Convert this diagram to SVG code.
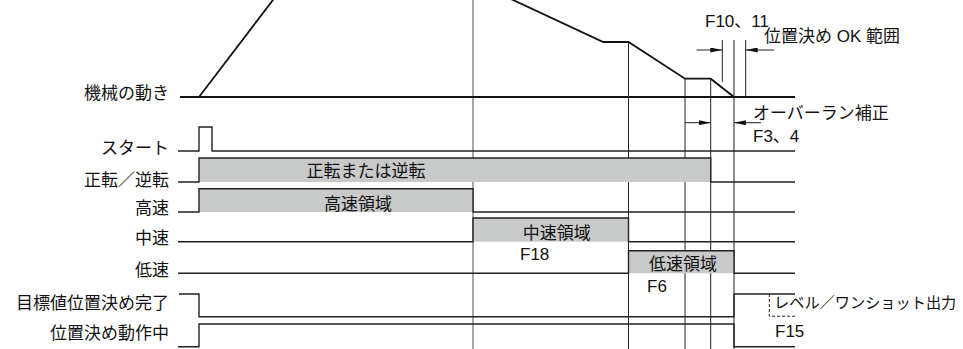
<svg xmlns="http://www.w3.org/2000/svg" width="963" height="349" viewBox="0 0 963 349">
<style>
text{font-family:"Liberation Sans","Noto Sans CJK JP",sans-serif;font-size:17px;fill:#111}
.lbl{text-anchor:end}
.mid{text-anchor:middle}
.sig{fill:none;stroke:#222;stroke-width:1.4}
.mot{fill:none;stroke:#111;stroke-width:1.8}
.ref{fill:none;stroke:#222;stroke-width:1}
.box{fill:#c8c9c9;stroke:none}
.dash{fill:none;stroke:#222;stroke-width:1;stroke-dasharray:3,2}
.dim{fill:none;stroke:#222;stroke-width:1}
</style>
<defs>
<marker id="ah" viewBox="0 0 12 5" refX="12" refY="2.5" markerWidth="12" markerHeight="5" markerUnits="userSpaceOnUse" orient="auto">
<path d="M0,0 L12,2.5 L0,5 Z" fill="#111"/>
</marker>
</defs>
<rect width="963" height="349" fill="#fff"/>
<g id="reference-lines">
<line x1="473" y1="0" x2="473" y2="349" style="stroke:#777;stroke-width:1.3"/>
<line class="ref" x1="628.5" y1="42" x2="628.5" y2="349"/>
<line class="ref" x1="685" y1="78.7" x2="685" y2="349"/>
<line class="ref" x1="710.7" y1="78.7" x2="710.7" y2="349"/>
<line class="ref" x1="734" y1="40" x2="734" y2="349"/>
<line class="ref" x1="722.3" y1="40" x2="722.3" y2="82"/>
<line class="ref" x1="745.7" y1="40" x2="745.7" y2="97"/>
</g>
<g id="boxes">
<rect class="box" x="199" y="158" width="511.7" height="24"/>
<rect class="box" x="199" y="188.7" width="274" height="23.3"/>
<rect class="box" x="473" y="218" width="155.5" height="23.7"/>
<rect class="box" x="628.5" y="250.7" width="105.5" height="22.6"/>
</g>
<g id="motion">
<path class="mot" d="M180,97 H795"/>
<path class="mot" d="M199,97 L276,-4"/>
<path class="mot" d="M504.5,-4 L603.3,42 H628.5 L685,78.7 H710.7 L734,97"/>
</g>
<g id="signals">
<path id="sig-start" class="sig" d="M178,151 H199 V127 H212 V151 H795"/>
<path id="sig-fwd" class="sig" d="M178,182 H199 V158 H710.7 V182 H795"/>
<path id="sig-high" class="sig" d="M178,212 H199 V188.7 H473 V212 H795"/>
<path id="sig-mid" class="sig" d="M178,241.7 H473 V218 H628.5 V241.7 H795"/>
<path id="sig-low" class="sig" d="M178,273.3 H628.5 V250.7 H734 V273.3 H795"/>
<path id="sig-done" class="sig" d="M179,294 H199 V316.7 H734 V294 H795"/>
<path class="dash" d="M769.3,294 V316.2 H795"/>
<path id="sig-busy" class="sig" d="M178,346.7 H199 V324 H734 V346.7 H795"/>
</g>
<g id="labels">
<text class="lbl" x="169" y="99">機械の動き</text>
<text class="lbl" x="169" y="154">スタート</text>
<text class="lbl" x="169" y="185.5">正転／逆転</text>
<text class="lbl" x="169" y="213.5">高速</text>
<text class="lbl" x="169" y="243.5">中速</text>
<text class="lbl" x="169" y="275.5">低速</text>
<text class="lbl" x="169" y="308.5">目標値位置決め完了</text>
<text class="lbl" x="169" y="338.5">位置決め動作中</text>
</g>
<g id="box-texts">
<text class="mid" x="366" y="177">正転または逆転</text>
<text class="mid" x="358" y="210">高速領域</text>
<text class="mid" x="556.7" y="239">中速領域</text>
<text x="520" y="260">F18</text>
<text class="mid" x="683" y="269.5">低速領域</text>
<text x="647" y="291.7">F6</text>
<text x="774" y="308" style="font-size:15.2px">レベル／ワンショット出力</text>
<text x="775" y="336.5">F15</text>
</g>
<g id="connectors">
<line class="dim" x1="696.5" y1="50" x2="722.3" y2="50" marker-end="url(#ah)"/>
<line class="dim" x1="774" y1="50" x2="745.7" y2="50" marker-end="url(#ah)"/>
<line class="dim" x1="685" y1="122.7" x2="710.7" y2="122.7" marker-end="url(#ah)"/>
<line class="dim" x1="761" y1="122.7" x2="734" y2="122.7" marker-end="url(#ah)"/>
</g>
<g id="annotations">
<text x="705" y="26.7">F10、11</text>
<text x="764" y="42">位置決め OK 範囲</text>
<text x="753" y="118.5">オーバーラン補正</text>
<text x="753" y="141.7">F3、4</text>
</g>
</svg>
